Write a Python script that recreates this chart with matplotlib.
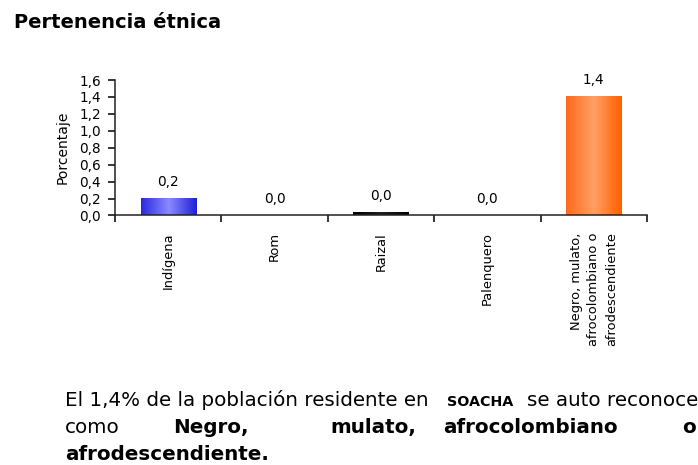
import numpy as np
import matplotlib.pyplot as plt
from matplotlib.colors import LinearSegmentedColormap

# datos del grafico
categorias = ["Indígena", "Rom", "Raizal", "Palenquero",
              "Negro, mulato,\nafrocolombiano o\nafrodescendiente"]
valores = [0.2, 0.0, 0.03, 0.0, 1.4]
etiquetas = ["0,2", "0,0", "0,0", "0,0", "1,4"]
y_ticks = [0.0, 0.2, 0.4, 0.6, 0.8, 1.0, 1.2, 1.4, 1.6]

# degradados de cada barra (borde, centro, borde)
colores = [
    ["#2a2ae0", "#8a8aff", "#2020d8"],
    ["#000000", "#000000", "#000000"],
    ["#000000", "#202020", "#000000"],
    ["#000000", "#000000", "#000000"],
    ["#ff6a1e", "#ffa066", "#ff6000"],
]

W, H = 698, 465


def px(x):
    return x / W


def py(y):
    return 1 - y / H


fig = plt.figure(figsize=(6.98, 4.65), dpi=100)
ax = fig.add_axes([px(115), py(215.5), px(647) - px(115), py(80) - py(215.5)])

ancho = 0.52
x = np.arange(len(categorias))
bars = ax.bar(x, valores, width=ancho, color="none", edgecolor="none")
for b, c in zip(bars, colores):
    cmap = LinearSegmentedColormap.from_list("g", c)
    grad = np.linspace(0, 1, 64).reshape(1, -1)
    x0, y0 = b.get_x(), b.get_y()
    w, h = b.get_width(), b.get_height()
    if h <= 0:
        continue
    ax.imshow(grad, cmap=cmap, aspect="auto",
              extent=[x0, x0 + w, y0, y0 + h], zorder=2)

for xi, v, t in zip(x, valores, etiquetas):
    ax.text(xi, v + 0.15, t, ha="center", va="baseline", fontsize=9.8)

ax.set_xlim(-0.5, len(categorias) - 0.5)
ax.set_ylim(0, 1.6)
ax.set_yticks(y_ticks)
ax.set_yticklabels([f"{v:.1f}".replace(".", ",") for v in y_ticks],
                   fontsize=9.8)
ax.set_xticks(np.arange(len(categorias) + 1) - 0.5)
ax.set_xticklabels([])
ax.set_xticks(x, minor=True)
ax.set_xticklabels(categorias, minor=True, rotation=90, fontsize=9.4,
                   va="top", ha="center", multialignment="right",
                   linespacing=1.45)
ax.tick_params(axis="x", which="minor", length=0, pad=12)
ax.tick_params(axis="x", which="major", length=5, width=1.1, direction="out")
ax.tick_params(axis="y", length=5, width=1.1, pad=5)
for s in ["left", "bottom"]:
    ax.spines[s].set_linewidth(1.1)
    ax.spines[s].set_color("#222222")
ax.spines["top"].set_visible(False)
ax.spines["right"].set_visible(False)
ax.set_ylabel("Porcentaje", fontsize=10, labelpad=7)

fig.text(px(14), py(28), "Pertenencia étnica", fontsize=14, fontweight="bold",
         va="baseline")

# texto explicativo justificado
fs = 14.3
fig.text(px(65), py(406), "El 1,4% de la población residente en", fontsize=fs,
         va="baseline")
fig.text(px(447), py(406), "SOACHA", fontsize=10.3, fontweight="bold",
         va="baseline")
fig.text(px(527), py(406), "se auto reconoce", fontsize=fs, va="baseline")
linea2 = [("como", 65, "normal"), ("Negro,", 173, "bold"),
          ("mulato,", 330, "bold"), ("afrocolombiano", 443, "bold"),
          ("o", 682, "bold")]
for w, xp, fw in linea2:
    fig.text(px(xp), py(433), w, fontsize=fs, fontweight=fw, va="baseline")
fig.text(px(65), py(460), "afrodescendiente.", fontsize=fs,
         fontweight="bold", va="baseline")

fig.savefig("out.png", dpi=100)
